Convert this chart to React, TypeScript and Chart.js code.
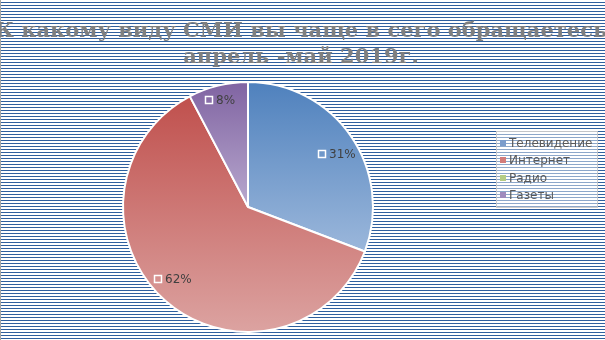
import React, { useEffect, useRef } from "react";
import { Chart, registerables } from "chart.js";

Chart.register(...registerables);

const titleLines = ["К какому виду СМИ вы чаще в сего обращаетесь", "апрель -май 2019г."];
const categories = ["Телевидение", "Интернет", "Радио", "Газеты"];
const shares = [30.8, 61.5, 0, 7.7];
const topColors = ["#4F81BD", "#C0504D", "#9BBB59", "#8064A2"];
const bottomColors = ["#9BB7DB", "#DCA3A1", "#C3D69B", "#B8A8CE"];
const legendColors = ["#7A9CCB", "#D27C7A", "#B5CC84", "#9F8BBD"];
// small style nudges for the data-label placement (best-fit look)
const labelNudgeX = [2, -5, 0, -3];
const labelNudgeY = [7, -7, 0, -5];

const bgPlugin = {
  id: "bgLines",
  beforeDraw(chart: any) {
    const { ctx, width, height } = chart;
    ctx.save();
    ctx.fillStyle = "#ffffff";
    ctx.fillRect(0, 0, width, height);
    ctx.fillStyle = "#2F5F9E";
    for (let y = 2; y < height; y += 3) ctx.fillRect(0, y, width, 1);
    ctx.fillStyle = "#A6A6A6";
    ctx.fillRect(0, 0, 1, height);
    ctx.restore();
  },
};

const gradientPlugin = {
  id: "sliceGradient",
  beforeDatasetsDraw(chart: any) {
    const { ctx } = chart;
    const meta = chart.getDatasetMeta(0);
    meta.data.forEach((arc: any, i: number) => {
      const { x, y, startAngle, endAngle, outerRadius } = arc.getProps(
        ["x", "y", "startAngle", "endAngle", "outerRadius"],
        true
      );
      let top = y;
      let bottom = y;
      const consider = (a: number) => {
        const py = y + Math.sin(a) * outerRadius;
        top = Math.min(top, py);
        bottom = Math.max(bottom, py);
      };
      consider(startAngle);
      consider(endAngle);
      for (const a of [-Math.PI / 2, Math.PI / 2, (3 * Math.PI) / 2, (5 * Math.PI) / 2]) {
        if (a > startAngle && a < endAngle) consider(a);
      }
      if (bottom - top < 1) return;
      const g = ctx.createLinearGradient(0, top, 0, bottom);
      g.addColorStop(0, topColors[i]);
      g.addColorStop(1, bottomColors[i]);
      arc.options = Object.assign({}, arc.options, { backgroundColor: g });
    });
  },
};

const labelPlugin = {
  id: "sliceLabels",
  afterDatasetsDraw(chart: any) {
    const { ctx } = chart;
    const meta = chart.getDatasetMeta(0);
    ctx.save();
    ctx.font = "12px 'DejaVu Sans'";
    ctx.textBaseline = "middle";
    meta.data.forEach((arc: any, i: number) => {
      if (!shares[i]) return;
      const { x, y, startAngle, endAngle, outerRadius } = arc.getProps(
        ["x", "y", "startAngle", "endAngle", "outerRadius"],
        true
      );
      const mid = (startAngle + endAngle) / 2;
      const rr = outerRadius * 0.84;
      const cx = x + Math.cos(mid) * rr + labelNudgeX[i];
      const cy = y + Math.sin(mid) * rr + labelNudgeY[i];
      const text = Math.round(shares[i]) + "%";
      const tw = ctx.measureText(text).width;
      const box = 7;
      const gap = 4;
      const left = Math.round(cx - (box + gap + tw) / 2);
      const yy = Math.round(cy);
      ctx.strokeStyle = "#ffffff";
      ctx.lineWidth = 1.5;
      ctx.strokeRect(left + 0.5, yy - 3.5, box, box);
      ctx.fillStyle = "#404040";
      ctx.fillText(text, left + box + gap, yy + 1);
    });
    ctx.restore();
  },
};

const legendPlugin = {
  id: "customLegend",
  afterDraw(chart: any) {
    const { ctx } = chart;
    const bx = 496;
    const by = 131;
    const bw = 101;
    const bh = 76;
    ctx.save();
    ctx.fillStyle = "rgba(255,255,255,0.45)";
    ctx.fillRect(bx, by, bw, bh);
    ctx.strokeStyle = "rgba(200,200,200,0.9)";
    ctx.lineWidth = 1;
    ctx.strokeRect(bx + 0.5, by + 0.5, bw, bh);
    ctx.font = "12px 'DejaVu Sans'";
    ctx.textBaseline = "middle";
    categories.forEach((c, i) => {
      const cy = 143 + i * 17.3;
      ctx.fillStyle = legendColors[i];
      ctx.fillRect(500, Math.round(cy) - 3, 6, 6);
      ctx.fillStyle = "#595959";
      ctx.fillText(c, 509, cy + 1);
    });
    ctx.restore();
  },
};

const titlePlugin = {
  id: "customTitle",
  afterDraw(chart: any) {
    const { ctx } = chart;
    ctx.save();
    ctx.font = "bold 21px 'DejaVu Serif'";
    ctx.textAlign = "center";
    ctx.textBaseline = "alphabetic";
    ctx.fillStyle = "#7F7F7F";
    titleLines.forEach((t, i) => {
      ctx.fillText(t, 301, 37 + i * 26);
    });
    ctx.restore();
  },
};

export default function App() {
  const ref = useRef<HTMLCanvasElement>(null);
  useEffect(() => {
    const chart = new Chart(ref.current as HTMLCanvasElement, {
      type: "pie",
      data: {
        labels: categories,
        datasets: [
          {
            data: shares,
            backgroundColor: topColors,
            borderColor: "#ffffff",
            borderWidth: 2,
            hoverOffset: 0,
          },
        ],
      },
      options: {
        responsive: false,
        animation: false,
        events: [],
        layout: { padding: { top: 81, bottom: 7, left: 5, right: 114 } },
        plugins: {
          legend: { display: false },
          title: { display: false },
          tooltip: { enabled: false },
        },
      },
      plugins: [bgPlugin, gradientPlugin, labelPlugin, legendPlugin, titlePlugin],
    } as any);
    return () => chart.destroy();
  }, []);
  return (
    <div style={{ position: "fixed", left: 0, top: 0, width: 605, height: 340 }}>
      <canvas ref={ref} width={605} height={340} style={{ display: "block" }} />
    </div>
  );
}
